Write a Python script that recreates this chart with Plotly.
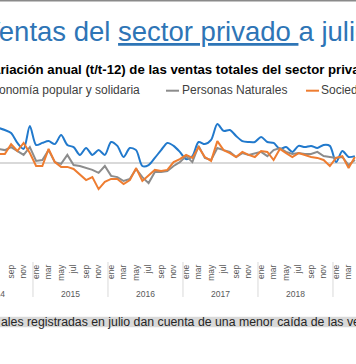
import plotly.graph_objects as go

# ---------------- data ----------------
months = ["ene", "feb", "mar", "abr", "may", "jun", "jul", "ago", "sep", "oct", "nov", "dic"]
years = [2014, 2015, 2016, 2017, 2018, 2019]
first_year, first_month = 2014, 7   # first plotted month: jul 2014

eps = [11.7, 11.0, 10.0, 6.7, 4.7, 12.3, 6.0, 6.7, 7.3, 6.3,
       9.3, 6.0, 5.3, 2.7, 5.0, 2.7, 4.3, 2.7, 7.0, 5.7,
       2.0, 5.0, 4.3, -1.0, -0.7, 1.7, 4.3, 6.7, 5.7, 3.7,
       1.3, 2.3, 7.0, 6.3, 7.7, 13.0, 10.7, 11.0, 9.0, 7.3,
       7.0, 7.0, 8.7, 7.0, 6.7, 4.7, 5.3, 3.7, 5.7, 5.3,
       5.7, 5.0, 6.0, 5.7, 0.3, 4.0, 2.0, 2.3]
personas = [4.7, 4.3, 5.3, 4.0, 2.7, 5.3, 0.7, 1.0, 4.3, 0.3,
            -0.3, 2.7, -0.7, -1.0, -1.7, -2.3, -3.3, -1.0, -4.3, -4.7,
            -6.0, -5.3, -2.0, -4.7, -6.7, -3.0, -3.0, -2.7, -1.0, 0.3,
            2.3, 0.3, 5.7, 1.7, 1.0, 5.0, 4.3, 3.7, 2.0, 3.3,
            2.7, 3.3, 3.7, 2.3, 4.3, 5.0, 3.7, 3.0, 3.3, 3.0,
            3.0, 3.7, 2.3, 2.0, 1.7, 2.0, -0.7, 1.0]
sociedades = [3.0, 3.0, 6.3, 4.0, 6.7, 3.3, -1.0, -1.0, 4.7, 0.3,
              -1.3, -1.3, -2.0, -3.7, -5.7, -4.7, -8.7, -6.3, -5.3, -5.3,
              -7.0, -5.7, -1.7, -6.0, -4.3, -2.3, -2.7, -2.3, 0.3, 1.3,
              2.7, 1.7, 5.3, 2.0, 0.7, 7.3, 4.3, 3.3, 2.0, 3.7,
              2.7, 2.0, 4.0, 3.7, 1.0, 4.7, 3.3, 2.0, 3.3, 2.7,
              2.0, 1.7, 1.0, -1.0, 1.7, 2.3, -1.7, 2.0]

series_names = ["Economía popular y solidaria", "Personas Naturales", "Sociedades"]
series_colors = ["#2179CC", "#8C8C8C", "#EE7D31"]

title_text = ('Ventas del <span style="text-decoration:underline">sector privado </span>'
              'a julio')
subtitle_text = "Variación anual (t/t-12) de las ventas totales del sector privado"
footer_text = "ales registradas en julio dan cuenta de una menor caída de las ventas"

# ---------------- geometry ----------------
W, H = 356, 364
MT, MB = 103, 102
PLOT_H = H - MT - MB
X_RANGE = [6.224, 63.184]     # month index (0 = ene 2014)
Y_RANGE = [-33, 20]

def px_x(px):
    return px / W

def px_y(py):
    return (H - MB - py) / PLOT_H

start_idx = (first_month - 1)
xs = [start_idx + k for k in range(len(eps))]

fig = go.Figure()
for vals, name, col in zip([eps, personas, sociedades], series_names, series_colors):
    fig.add_trace(go.Scatter(
        x=xs, y=vals, mode="lines", name=name,
        line=dict(color=col, width=2,
                  shape="spline" if col == series_colors[0] else "linear",
                  smoothing=0.8),
        showlegend=False, hoverinfo="skip"))

# month tick labels (every other month)
n_months = 12 * len(years)
tickvals = [i for i in range(n_months) if i % 2 == 0]
ticktext = [months[i % 12] for i in tickvals]

annotations = []
shapes = []
FONT = "Liberation Sans"

# year labels and dividers
for k, yr in enumerate(years):
    center = 12 * k + 5.5
    annotations.append(dict(
        text=str(yr), xref="paper", yref="paper",
        x=(center - X_RANGE[0]) / (X_RANGE[1] - X_RANGE[0]), y=px_y(294),
        xanchor="center", yanchor="middle", showarrow=False,
        font=dict(family=FONT, size=8.5, color="#595959")))
    if k > 0:
        shapes.append(dict(type="line", xref="x", yref="paper",
                           x0=12 * k - 0.5, x1=12 * k - 0.5,
                           y0=0, y1=px_y(297),
                           line=dict(color="#D9D9D9", width=1)))

# title
annotations.append(dict(text=title_text, xref="paper", yref="paper",
                        x=px_x(-20), y=px_y(31.6), xanchor="left", yanchor="middle",
                        showarrow=False,
                        font=dict(family=FONT, size=27.5, color="#2E75B6")))
# subtitle
annotations.append(dict(text="<b>" + subtitle_text + "</b>", xref="paper", yref="paper",
                        x=px_x(-17), y=px_y(69.8), xanchor="left", yanchor="middle",
                        showarrow=False,
                        font=dict(family=FONT, size=13.2, color="#000000")))
# legend
legend_pos = [(-32, -17), (166, 180), (306, 319)]
for (lx, tx), name, col in zip(legend_pos, series_names, series_colors):
    shapes.append(dict(type="line", xref="paper", yref="paper",
                       x0=px_x(lx), x1=px_x(lx + 13), y0=px_y(90.7), y1=px_y(90.7),
                       line=dict(color=col, width=2)))
    annotations.append(dict(text=name, xref="paper", yref="paper",
                            x=px_x(tx), y=px_y(90.1), xanchor="left", yanchor="middle",
                            showarrow=False,
                            font=dict(family=FONT, size=12, color="#404040")))

# footer band
shapes.append(dict(type="rect", xref="paper", yref="paper",
                   x0=-0.05, x1=1.05, y0=px_y(327.3), y1=px_y(316.7),
                   fillcolor="#D9D9D9", line=dict(width=0), layer="below"))
annotations.append(dict(text=footer_text, xref="paper", yref="paper",
                        x=px_x(-1), y=px_y(321.8), xanchor="left", yanchor="middle",
                        showarrow=False,
                        font=dict(family=FONT, size=12.3, color="#262626")))
# top border line
shapes.append(dict(type="line", xref="paper", yref="paper",
                   x0=-0.05, x1=1.05, y0=px_y(0.7), y1=px_y(0.7),
                   line=dict(color="#8A8A8A", width=1.5)))

fig.update_layout(
    width=W, height=H,
    margin=dict(l=0, r=0, t=MT, b=MB, pad=0),
    paper_bgcolor="white", plot_bgcolor="white",
    xaxis=dict(range=X_RANGE, tickmode="array", tickvals=tickvals, ticktext=ticktext,
               tickangle=-90, showgrid=False, zeroline=False, showline=False, ticks="",
               tickfont=dict(family=FONT, size=8.5, color="#595959")),
    yaxis=dict(range=Y_RANGE, showgrid=False, showticklabels=False, ticks="",
               zeroline=True, zerolinecolor="#D9D9D9", zerolinewidth=2, showline=False),
    annotations=annotations, shapes=shapes,
)

fig.write_html("out.html",
               config={"displayModeBar": False, "staticPlot": True},
               post_script="document.body.style.margin='0px';"
                           "document.body.style.overflow='hidden';")
